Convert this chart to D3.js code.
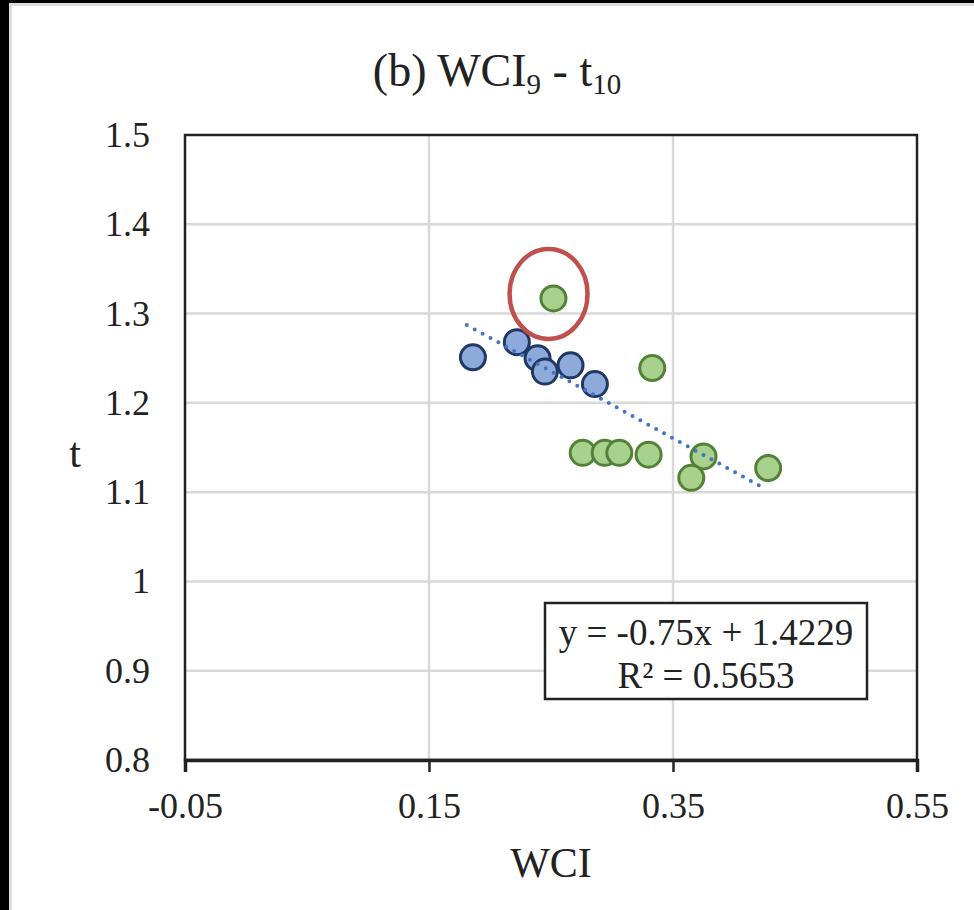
<!DOCTYPE html>
<html>
<head>
<meta charset="utf-8">
<script src="https://cdn.jsdelivr.net/npm/d3@7"></script>
<style>
  html, body { margin: 0; padding: 0; background: #fff; }
  svg { display: block; font-family: "Liberation Serif", "Times New Roman", serif; }
</style>
</head>
<body>
<div class="chart"></div>
<script>
// data
const blueX = [0.186, 0.222, 0.239, 0.245, 0.266, 0.286];
const blueY = [1.251, 1.268, 1.250, 1.235, 1.242, 1.221];
const greenX = [0.252, 0.333, 0.276, 0.294, 0.306, 0.330, 0.375, 0.365, 0.428];
const greenY = [1.317, 1.239, 1.144, 1.144, 1.144, 1.142, 1.140, 1.116, 1.127];
const xTicks = [-0.05, 0.15, 0.35, 0.55];
const yTicks = [0.8, 0.9, 1, 1.1, 1.2, 1.3, 1.4, 1.5];
const slope = -0.75;
const intercept = 1.4229;
const r2 = 0.5653;
const trendRange = [0.181, 0.423];
const outlier = {x: 0.248, y: 1.322};

const width = 974;
const height = 910;

const svg = d3.select('.chart').append('svg')
  .attr('width', width)
  .attr('height', height);

// frame edges of the screenshot
svg.append('rect').attr('x', 0).attr('y', 0).attr('width', width).attr('height', 3).attr('fill', '#000');
svg.append('rect').attr('x', 0).attr('y', 0).attr('width', 9).attr('height', height).attr('fill', '#000');
svg.append('rect').attr('x', 9).attr('y', 3).attr('width', width - 9).attr('height', 3).attr('fill', '#dcdcdc');
svg.append('rect').attr('x', 9).attr('y', 3).attr('width', 3).attr('height', height).attr('fill', '#dcdcdc');

const x = d3.scaleLinear().domain([-0.05, 0.55]).range([185, 917]);
const y = d3.scaleLinear().domain([0.8, 1.5]).range([760, 135]);

// gridlines
svg.append('g').selectAll('line')
  .data(yTicks.slice(1, -1))
  .enter().append('line')
  .attr('x1', x(-0.05)).attr('x2', x(0.55))
  .attr('y1', d => y(d)).attr('y2', d => y(d))
  .attr('stroke', '#d9d9d9').attr('stroke-width', 2.5);

svg.append('g').selectAll('line')
  .data(xTicks.slice(1, -1))
  .enter().append('line')
  .attr('y1', y(0.8)).attr('y2', y(1.5))
  .attr('x1', d => x(d)).attr('x2', d => x(d))
  .attr('stroke', '#d9d9d9').attr('stroke-width', 2.5);

// plot border
svg.append('rect')
  .attr('x', x(-0.05)).attr('y', y(1.5))
  .attr('width', x(0.55) - x(-0.05))
  .attr('height', y(0.8) - y(1.5))
  .attr('fill', 'none')
  .attr('stroke', '#222').attr('stroke-width', 2.5);

// x axis
const xAxis = svg.append('g')
  .attr('transform', `translate(0,${y(0.8)})`)
  .call(d3.axisBottom(x).tickValues(xTicks).tickSize(12).tickPadding(20)
    .tickFormat(d => d.toFixed(2)));
xAxis.select('.domain').attr('stroke', '#222').attr('stroke-width', 3.5);
xAxis.selectAll('.tick line').attr('stroke', '#222').attr('stroke-width', 2.5);
xAxis.selectAll('.tick text')
  .attr('font-family', '"Liberation Serif", serif')
  .attr('font-size', 36).attr('fill', '#222');

// y axis labels
const yAxis = svg.append('g')
  .attr('transform', `translate(${x(-0.05)},0)`)
  .call(d3.axisLeft(y).tickValues(yTicks).tickSize(0).tickPadding(35)
    .tickFormat(d => d === 1 ? '1' : d.toFixed(1)));
yAxis.select('.domain').remove();
yAxis.selectAll('.tick text')
  .attr('font-family', '"Liberation Serif", serif')
  .attr('font-size', 36).attr('fill', '#222');

// points
svg.append('g').selectAll('circle')
  .data(blueX.map((d, i) => ({x: d, y: blueY[i]})))
  .enter().append('circle')
  .attr('cx', d => x(d.x)).attr('cy', d => y(d.y))
  .attr('r', 12.5)
  .attr('fill', '#8eaadb')
  .attr('stroke', '#1f3864').attr('stroke-width', 3);

svg.append('g').selectAll('circle')
  .data(greenX.map((d, i) => ({x: d, y: greenY[i]})))
  .enter().append('circle')
  .attr('cx', d => x(d.x)).attr('cy', d => y(d.y))
  .attr('r', 12.5)
  .attr('fill', '#a9d18e')
  .attr('stroke', '#538135').attr('stroke-width', 3);

// trendline
svg.append('line')
  .attr('x1', x(trendRange[0])).attr('y1', y(slope * trendRange[0] + intercept))
  .attr('x2', x(trendRange[1])).attr('y2', y(slope * trendRange[1] + intercept))
  .attr('stroke', '#4472c4').attr('stroke-width', 4)
  .attr('stroke-linecap', 'round')
  .attr('stroke-dasharray', '0 9');

// red ellipse around the outlier
svg.append('ellipse')
  .attr('cx', x(outlier.x)).attr('cy', y(outlier.y))
  .attr('rx', 39).attr('ry', 45)
  .attr('fill', 'none')
  .attr('stroke', '#c0504d').attr('stroke-width', 4.5);

// equation box
svg.append('rect')
  .attr('x', 545).attr('y', 603)
  .attr('width', 322).attr('height', 96)
  .attr('fill', '#fff')
  .attr('stroke', '#222').attr('stroke-width', 2.5);

svg.append('text')
  .attr('x', 706).attr('y', 645)
  .attr('text-anchor', 'middle')
  .attr('font-size', 37).attr('fill', '#222')
  .text(`y = ${slope}x + ${intercept}`);

svg.append('text')
  .attr('x', 706).attr('y', 688)
  .attr('text-anchor', 'middle')
  .attr('font-size', 37).attr('fill', '#222')
  .text(`R² = ${r2}`);

// title
const title = svg.append('text')
  .attr('x', 497).attr('y', 86)
  .attr('text-anchor', 'middle')
  .attr('font-size', 46).attr('fill', '#222');
title.append('tspan').text('(b) WCI');
title.append('tspan').attr('font-size', 29).attr('dy', 8).text('9');
title.append('tspan').attr('dy', -8).text(' - t');
title.append('tspan').attr('font-size', 29).attr('dy', 8).text('10');

// axis titles
svg.append('text')
  .attr('x', 551).attr('y', 877)
  .attr('text-anchor', 'middle')
  .attr('font-size', 42).attr('fill', '#222')
  .text('WCI');

svg.append('text')
  .attr('x', 75).attr('y', 467)
  .attr('text-anchor', 'middle')
  .attr('font-size', 42).attr('fill', '#222')
  .text('t');
</script>
</body>
</html>
